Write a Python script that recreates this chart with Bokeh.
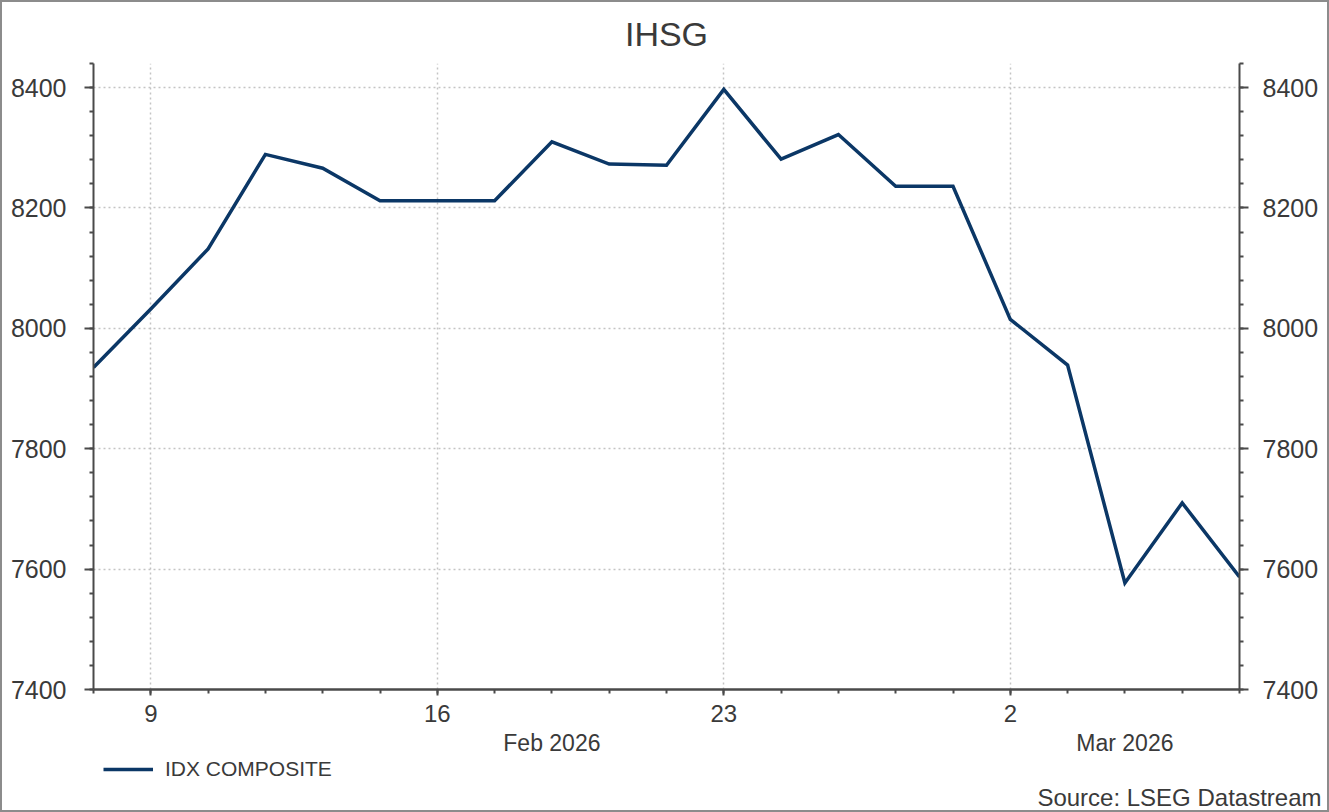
from bokeh.plotting import figure
from bokeh.layouts import column
from bokeh.models import (LinearAxis, FixedTicker, Range1d, Legend, LegendItem,
                          Title, ColumnDataSource)
from bokeh.embed import file_html
from bokeh.resources import INLINE

# ---------------- data ----------------
dates = ["2026-02-06", "2026-02-09", "2026-02-10", "2026-02-11", "2026-02-12",
         "2026-02-13", "2026-02-16", "2026-02-17", "2026-02-18", "2026-02-19",
         "2026-02-20", "2026-02-23", "2026-02-24", "2026-02-25", "2026-02-26",
         "2026-02-27", "2026-03-02", "2026-03-03", "2026-03-04", "2026-03-05",
         "2026-03-06"]
values = [7935, 8032, 8132, 8289, 8266, 8212, 8212, 8212, 8310, 8273, 8271,
          8397, 8281, 8322, 8236, 8236, 8015, 7939, 7577, 7710, 7587]
series_name = "IDX COMPOSITE"
title_text = "IHSG"
source_text = "Source: LSEG Datastream"

# business-day index of the labelled Mondays and their labels
week_tick_pos = [1, 6, 11, 16]
week_tick_labels = ["9", "16", "23", "2"]
month_tick_pos = [8, 18]
month_tick_labels = ["Feb 2026", "Mar 2026"]
y_ticks = [7400, 7600, 7800, 8000, 8200, 8400]
y_minor = list(range(7400, 8441, 40))

# ---------------- style ----------------
FONT = "Liberation Sans"
TXT = "#3a3a3a"
AX = "#4a4a4a"
LINE = "#0b3766"
GRID = "#c4c4c4"
W = 1325
H_TOP = 756
H_BOT = 52

xs = list(range(len(dates)))
src = ColumnDataSource(dict(x=xs, y=values, date=dates))

p = figure(width=W, height=H_TOP, output_backend="svg", toolbar_location=None,
           x_range=Range1d(0, len(dates) - 1), y_range=Range1d(7400, 8440),
           min_border_left=91, min_border_right=88, min_border_top=60,
           min_border_bottom=68, background_fill_color="white",
           border_fill_color="white")
p.outline_line_color = None

p.title.text = title_text
p.title.align = "center"
p.title.text_font = FONT
p.title.text_font_size = "34px"
p.title.text_font_style = "normal"
p.title.text_color = TXT
p.title.standoff = 21

r = p.line("x", "y", source=src, line_color=LINE, line_width=3.5,
           line_join="miter")

# x axis (weeks)
xa = p.xaxis[0]
xa.ticker = FixedTicker(ticks=week_tick_pos, minor_ticks=xs)
xa.major_label_overrides = {k: v for k, v in zip(week_tick_pos, week_tick_labels)}
xa.major_tick_out = 6
xa.major_tick_in = 0
xa.minor_tick_out = 4
xa.minor_tick_in = 0
xa.axis_line_width = 2.5
xa.axis_line_color = AX
xa.major_tick_line_color = AX
xa.minor_tick_line_color = AX
xa.major_tick_line_width = 2
xa.minor_tick_line_width = 2
xa.major_label_text_font = FONT
xa.major_label_text_font_size = "24px"
xa.major_label_text_color = TXT
xa.major_label_standoff = 9

# month axis
ma = LinearAxis(ticker=FixedTicker(ticks=month_tick_pos, minor_ticks=[]))
ma.major_label_overrides = {k: v for k, v in zip(month_tick_pos, month_tick_labels)}
ma.axis_line_color = None
ma.major_tick_line_color = None
ma.minor_tick_line_color = None
ma.major_tick_out = 0
ma.minor_tick_out = 0
ma.major_label_text_font = FONT
ma.major_label_text_font_size = "23px"
ma.major_label_text_color = TXT
ma.major_label_standoff = 5
p.add_layout(ma, "below")

# y axes
ya = p.yaxis[0]
yr = LinearAxis()
p.add_layout(yr, "right")
for a, so in ((ya, 18), (yr, 14)):
    a.ticker = FixedTicker(ticks=y_ticks, minor_ticks=y_minor)
    a.major_tick_out = 9
    a.major_tick_in = 0
    a.minor_tick_out = 4
    a.minor_tick_in = 0
    a.axis_line_width = 2
    a.axis_line_color = AX
    a.major_tick_line_color = AX
    a.minor_tick_line_color = AX
    a.major_tick_line_width = 2
    a.minor_tick_line_width = 2
    a.major_label_text_font = FONT
    a.major_label_text_font_size = "25px"
    a.major_label_text_color = TXT
    a.major_label_standoff = so
    a.major_label_orientation = "horizontal"

# grid
p.xgrid.ticker = FixedTicker(ticks=week_tick_pos)
p.ygrid.ticker = FixedTicker(ticks=y_ticks)
for g in (p.xgrid, p.ygrid):
    g.grid_line_color = GRID
    g.grid_line_dash = "2 3"
    g.grid_line_width = 1.5

# ---------------- footer strip: legend + source ----------------
# its frame is aligned with the main plot's frame by the column layout
f = figure(width=W, height=H_BOT, output_backend="svg", toolbar_location=None,
           x_range=p.x_range, y_range=Range1d(0, 1),
           min_border_left=91, min_border_right=88, min_border_top=0,
           min_border_bottom=0, background_fill_color="white",
           border_fill_color="white")
f.outline_line_color = None
f.xaxis.visible = False
f.yaxis.visible = False
f.grid.visible = False
# legend key line: same series, lies outside this strip's y range
key = f.line("x", "y", source=src, line_color=LINE, line_width=3.5)

leg = Legend(items=[LegendItem(label=series_name, renderers=[key])],
             location=(10, 0), orientation="horizontal",
             glyph_width=50, glyph_height=16, label_standoff=12,
             label_text_font=FONT, label_text_font_size="21px",
             label_height=16,
             label_text_color=TXT, border_line_color=None,
             background_fill_alpha=0, padding=0, margin=0)
f.add_layout(leg)

src_title = Title(text=source_text, align="right", text_font=FONT,
                  text_font_size="24px", text_font_style="normal",
                  text_color=TXT, offset=-82, standoff=0)
f.add_layout(src_title, "below")

layout = column(p, f, spacing=0)
layout.styles = {"border": "2px solid #8c8c8c"}

html = file_html(layout, INLINE)
html = html.replace("<body>", '<body style="margin:0;overflow:hidden">')
open("out.html", "w").write(html)
